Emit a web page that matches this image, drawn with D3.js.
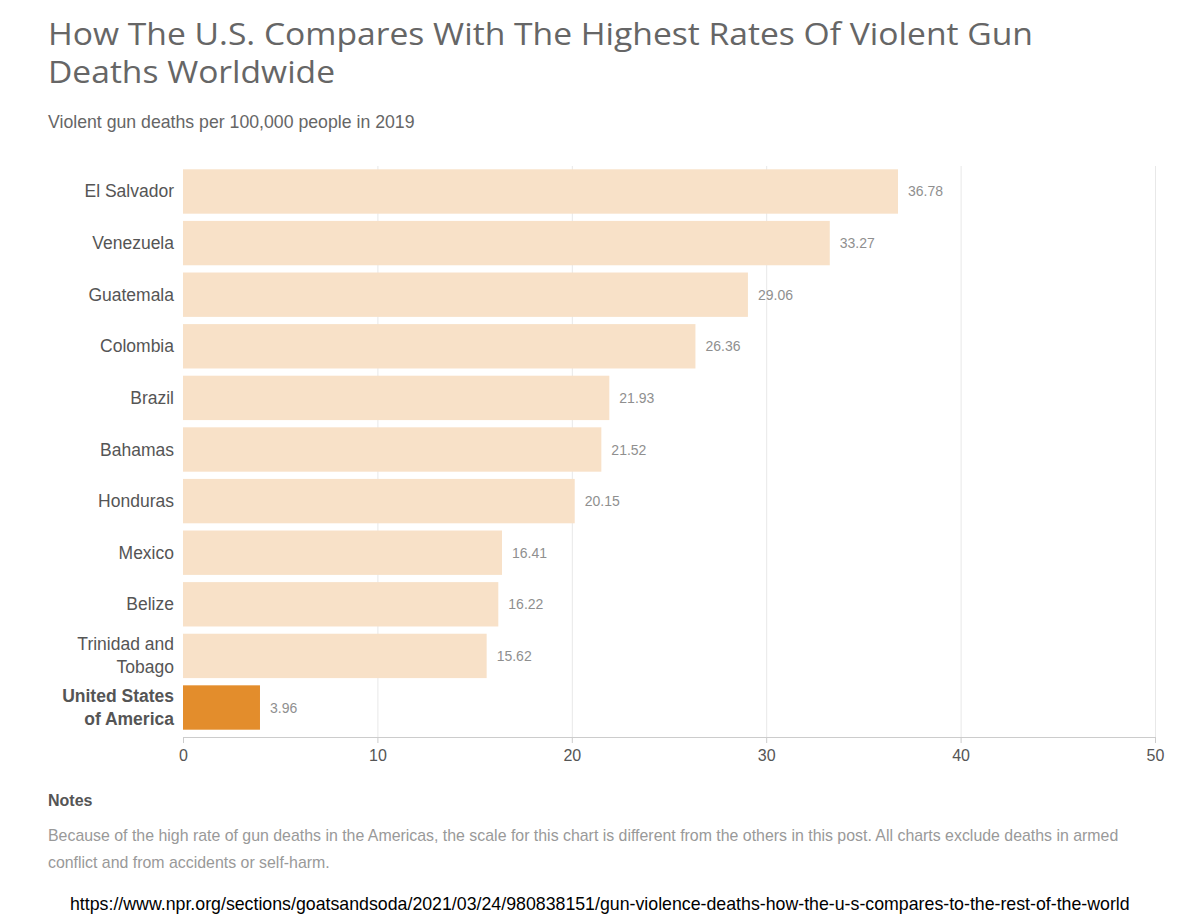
<!DOCTYPE html>
<html><head><meta charset="utf-8">
<script src="https://cdn.jsdelivr.net/npm/d3@7"></script>
<style>body{margin:0;background:#fff}svg{display:block}</style>
</head><body>
<svg id="c" width="1200" height="920"></svg>
<script>
const countries = ["El Salvador","Venezuela","Guatemala","Colombia","Brazil","Bahamas","Honduras","Mexico","Belize","Trinidad and Tobago","United States of America"];
const labelLines = [["El Salvador"],["Venezuela"],["Guatemala"],["Colombia"],["Brazil"],["Bahamas"],["Honduras"],["Mexico"],["Belize"],["Trinidad and","Tobago"],["United States","of America"]];
const rates = [36.78,33.27,29.06,26.36,21.93,21.52,20.15,16.41,16.22,15.62,3.96];
const highlight = "United States of America";
const xTicks = [0,10,20,30,40,50];

const svg = d3.select("#c");
const x = d3.scaleLinear().domain([0,50]).range([183,1155]);
const y = d3.scaleBand().domain(countries).range([162,737]).paddingInner(0.14).paddingOuter(0.1415);

// title
const title = svg.append("text").attr("font-family","'Open Sans', Lato, sans-serif").attr("font-size",31).attr("fill","#666");
title.append("tspan").attr("x",48).attr("y",45).attr("textLength",985).attr("lengthAdjust","spacingAndGlyphs").text("How The U.S. Compares With The Highest Rates Of Violent Gun");
title.append("tspan").attr("x",48).attr("y",83).attr("textLength",287).attr("lengthAdjust","spacingAndGlyphs").text("Deaths Worldwide");
svg.append("text").attr("x",48).attr("y",128).attr("font-family","'Liberation Sans', Arial, sans-serif").attr("font-size",17.7).attr("fill","#666").text("Violent gun deaths per 100,000 people in 2019");

// grid
svg.append("g").selectAll("line").data(xTicks.slice(1)).join("line")
  .attr("x1",d=>x(d)+0.5).attr("x2",d=>x(d)+0.5).attr("y1",166).attr("y2",737)
  .attr("stroke","#e8e8e8").attr("stroke-width",1);

// bars
svg.append("g").selectAll("rect").data(countries).join("rect")
  .attr("x",x(0)).attr("y",d=>y(d)).attr("height",y.bandwidth())
  .attr("width",(d,i)=>x(rates[i])-x(0))
  .attr("fill",d=>d===highlight?"#e38d2c":"#f8e1c8");

// value labels
svg.append("g").selectAll("text").data(countries).join("text")
  .attr("x",(d,i)=>x(rates[i])+10).attr("y",d=>y(d)+y.bandwidth()/2+5)
  .attr("font-family","'Liberation Sans', Arial, sans-serif").attr("font-size",14).attr("fill","#8f8f8f")
  .text((d,i)=>rates[i].toFixed(2));

// category labels
const cat = svg.append("g").selectAll("text").data(countries).join("text")
  .attr("text-anchor","end").attr("font-family","'Liberation Sans', Arial, sans-serif").attr("font-size",17.5)
  .attr("fill","#555").attr("font-weight",d=>d===highlight?"bold":"normal");
cat.each(function(d,i){
  const lines = labelLines[i];
  const cy = y(d)+y.bandwidth()/2;
  const lh = 23;
  const start = cy - (lines.length-1)*lh/2 + 6;
  d3.select(this).selectAll("tspan").data(lines).join("tspan")
    .attr("x",174).attr("y",(l,j)=>start+j*lh).text(l=>l);
});

// axis
const ax = svg.append("g").attr("transform","translate(0,737)")
  .call(d3.axisBottom(x).tickValues(xTicks).tickSize(6).tickFormat(d3.format("d")));
ax.select(".domain").attr("stroke","#ccc").attr("d","M183.5,0.5H1155.5");
ax.selectAll(".tick line").attr("stroke","#ccc");
ax.selectAll(".tick text").attr("font-family","'Liberation Sans', Arial, sans-serif").attr("font-size",16).attr("fill","#555").attr("dy","0.95em");

// notes
svg.append("text").attr("x",48).attr("y",806).attr("font-family","'Liberation Sans', Arial, sans-serif").attr("font-size",16).attr("font-weight","bold").attr("fill","#555").text("Notes");
const notes = svg.append("text").attr("font-family","'Liberation Sans', Arial, sans-serif").attr("font-size",15.9).attr("fill","#999");
notes.append("tspan").attr("x",48).attr("y",841).text("Because of the high rate of gun deaths in the Americas, the scale for this chart is different from the others in this post. All charts exclude deaths in armed");
notes.append("tspan").attr("x",48).attr("y",868).text("conflict and from accidents or self-harm.");
svg.append("text").attr("x",70).attr("y",910).attr("font-family","'Liberation Sans', Arial, sans-serif").attr("font-size",17.75).attr("fill","#000")
  .text("https://www.npr.org/sections/goatsandsoda/2021/03/24/980838151/gun-violence-deaths-how-the-u-s-compares-to-the-rest-of-the-world");
</script>
</body></html>
